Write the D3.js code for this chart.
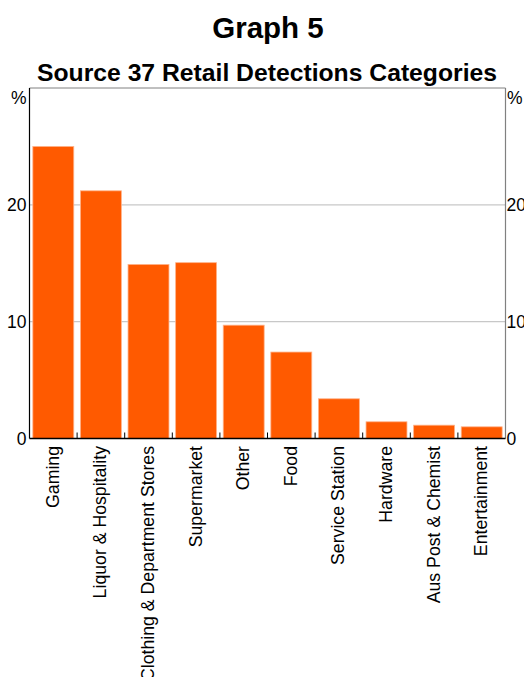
<!DOCTYPE html>
<html><head><meta charset="utf-8">
<script src="https://cdn.jsdelivr.net/npm/d3@7"></script>
<style>body{margin:0;background:#fff}svg{display:block;font-family:"Liberation Sans",Arial,sans-serif}</style>
</head><body><svg id="c" width="524" height="677"></svg>
<script>
const categories = ["Gaming","Liquor & Hospitality","Clothing & Department Stores","Supermarket","Other","Food","Service Station","Hardware","Aus Post & Chemist","Entertainment"];
const values = [25.0, 21.2, 14.9, 15.05, 9.7, 7.4, 3.4, 1.43, 1.14, 1.0];
const yTicks = [0, 10, 20];
const title = "Graph 5";
const subtitle = "Source 37 Retail Detections Categories";

const svg = d3.select("#c");
const L = 29.5, R = 505.5, T = 88, B = 438.5;
const x = d3.scaleBand().domain(categories).range([L, R]).paddingInner(0.14).paddingOuter(0.07);
const y = d3.scaleLinear().domain([0, 30]).range([B, T]);

svg.append("text").attr("x", 268).attr("y", 38).attr("text-anchor","middle")
  .attr("font-size", 29.5).attr("font-weight","bold").text(title);
svg.append("text").attr("x", 267).attr("y", 81).attr("text-anchor","middle")
  .attr("font-size", 24).attr("font-weight","bold")
  .attr("textLength", 460).attr("lengthAdjust","spacingAndGlyphs").text(subtitle);

// gridlines
svg.append("g").selectAll("line").data(yTicks.filter(d => d > 0)).join("line")
  .attr("x1", L).attr("x2", R).attr("y1", d => y(d)).attr("y2", d => y(d))
  .attr("stroke", "#c8c8c8").attr("stroke-width", 1.2);

// bars
svg.append("g").selectAll("rect").data(categories).join("rect")
  .attr("x", d => x(d)).attr("width", x.bandwidth())
  .attr("y", (d,i) => y(values[i])).attr("height", (d,i) => B - y(values[i]))
  .attr("fill", "#ff5a00").attr("stroke", "#ffb38a").attr("stroke-width", 0.8);

// frame
svg.append("line").attr("x1", L).attr("x2", R).attr("y1", T).attr("y2", T).attr("stroke", "#808080").attr("stroke-width", 1);
svg.append("line").attr("x1", R).attr("x2", R).attr("y1", T).attr("y2", B).attr("stroke", "#808080").attr("stroke-width", 1.2);
svg.append("line").attr("x1", L).attr("x2", L).attr("y1", T).attr("y2", B).attr("stroke", "#000").attr("stroke-width", 1.2);

// category ticks between bars
const step = x.step();
svg.append("g").selectAll("line").data(categories.slice(1)).join("line")
  .attr("x1", d => x(d) - step*0.07).attr("x2", d => x(d) - step*0.07)
  .attr("y1", B).attr("y2", B - 6).attr("stroke", "#000").attr("stroke-width", 1);
svg.append("line").attr("x1", L).attr("x2", R).attr("y1", B).attr("y2", B).attr("stroke", "#000").attr("stroke-width", 1.4);

// y axes labels
const yl = svg.append("g").attr("font-size", 17.5);
yl.selectAll("text.l").data(yTicks).join("text").attr("class","l")
  .attr("x", L - 3).attr("y", d => y(d) + 6.5).attr("text-anchor","end").text(d => d);
yl.selectAll("text.r").data(yTicks).join("text").attr("class","r")
  .attr("x", R + 1).attr("y", d => y(d) + 6.5).attr("text-anchor","start").text(d => d);
yl.append("text").attr("x", 11).attr("y", 104).text("%");
yl.append("text").attr("x", 507).attr("y", 104).text("%");

// category labels
svg.append("g").attr("font-size", 17.7).selectAll("text").data(categories).join("text")
  .attr("transform", d => `translate(${x(d) + x.bandwidth()/2 + 5.5},446) rotate(-90)`)
  .attr("text-anchor","end").text(d => d);
</script></body></html>
